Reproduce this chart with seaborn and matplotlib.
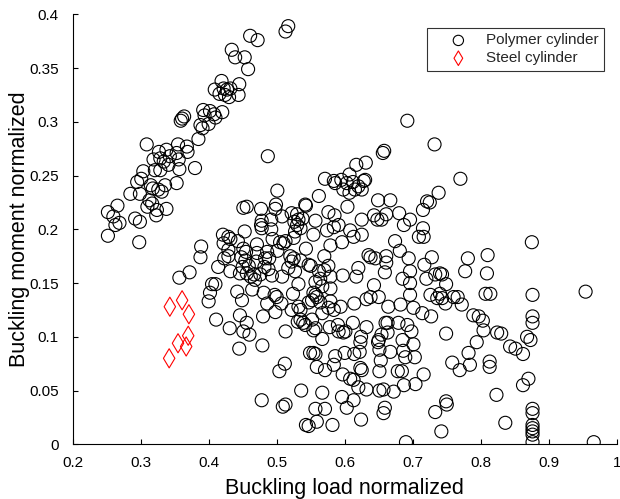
import matplotlib
matplotlib.use("Agg")
import matplotlib.pyplot as plt
import seaborn as sns
import pandas as pd

# Normalized buckling load / moment for the polymer cylinders
polymer_load = [
    0.517, 0.513, 0.461, 0.472, 0.434, 0.439, 0.453, 0.458, 0.419, 0.445,
    0.409, 0.422, 0.427, 0.432, 0.416, 0.424, 0.430, 0.444, 0.392, 0.402,
    0.394, 0.408, 0.420, 0.410, 0.400, 0.388, 0.391, 0.385, 0.364, 0.361,
    0.359, 0.309, 0.327, 0.338, 0.355, 0.368, 0.369, 0.353, 0.319, 0.329,
    0.334, 0.343, 0.356, 0.341, 0.329, 0.321, 0.304, 0.357, 0.380, 0.295,
    0.301, 0.315, 0.318, 0.326, 0.331, 0.336, 0.353, 0.285, 0.299, 0.313,
    0.317, 0.310, 0.324, 0.338, 0.323, 0.252, 0.260, 0.266, 0.263, 0.269,
    0.292, 0.299, 0.252, 0.298, 0.487, 0.501, 0.451, 0.456, 0.477, 0.499,
    0.498, 0.508, 0.492, 0.478, 0.477, 0.478, 0.492, 0.522, 0.530, 0.542,
    0.526, 0.532, 0.538, 0.530, 0.535, 0.527, 0.525, 0.453, 0.421, 0.429,
    0.432, 0.389, 0.422, 0.443, 0.471, 0.494, 0.505, 0.510, 0.513, 0.501,
    0.543, 0.429, 0.451, 0.455, 0.471, 0.486, 0.489, 0.483, 0.520, 0.525,
    0.522, 0.535, 0.388, 0.414, 0.423, 0.429, 0.448, 0.454, 0.450, 0.459,
    0.470, 0.482, 0.488, 0.432, 0.446, 0.456, 0.462, 0.467, 0.468, 0.476,
    0.493, 0.508, 0.517, 0.527, 0.547, 0.405, 0.410, 0.402, 0.442, 0.464,
    0.481, 0.497, 0.500, 0.524, 0.532, 0.400, 0.449, 0.507, 0.498, 0.486,
    0.532, 0.535, 0.522, 0.531, 0.535, 0.542, 0.411, 0.431, 0.446, 0.456,
    0.451, 0.460, 0.480, 0.513, 0.445, 0.479, 0.512, 0.504, 0.536, 0.478,
    0.509, 0.513, 0.543, 0.547, 0.549, 0.658, 0.656, 0.617, 0.631, 0.571,
    0.584, 0.586, 0.595, 0.607, 0.603, 0.612, 0.598, 0.607, 0.615, 0.620,
    0.628, 0.630, 0.625, 0.562, 0.543, 0.649, 0.667, 0.721, 0.604, 0.576,
    0.585, 0.584, 0.591, 0.574, 0.557, 0.625, 0.643, 0.648, 0.654, 0.661,
    0.680, 0.687, 0.696, 0.715, 0.715, 0.709, 0.716, 0.608, 0.613, 0.625,
    0.554, 0.596, 0.579, 0.570, 0.635, 0.638, 0.645, 0.661, 0.661, 0.659,
    0.674, 0.681, 0.694, 0.696, 0.685, 0.696, 0.717, 0.720, 0.550, 0.562,
    0.570, 0.576, 0.579, 0.564, 0.557, 0.567, 0.579, 0.597, 0.617, 0.620,
    0.643, 0.554, 0.557, 0.559, 0.638, 0.650, 0.696, 0.552, 0.547, 0.564,
    0.579, 0.576, 0.584, 0.594, 0.567, 0.539, 0.552, 0.557, 0.554, 0.578,
    0.590, 0.591, 0.598, 0.601, 0.612, 0.624, 0.632, 0.567, 0.614, 0.632,
    0.664, 0.682, 0.701, 0.714, 0.660, 0.663, 0.679, 0.692, 0.663, 0.654,
    0.650, 0.649, 0.698, 0.623, 0.622, 0.651, 0.667, 0.685, 0.686, 0.701,
    0.689, 0.703, 0.554, 0.557, 0.586, 0.600, 0.614, 0.559, 0.571, 0.584,
    0.597, 0.608, 0.613, 0.623, 0.625, 0.653, 0.651, 0.678, 0.684, 0.716,
    0.567, 0.620, 0.632, 0.651, 0.657, 0.672, 0.687, 0.704, 0.596, 0.613,
    0.603, 0.557, 0.571, 0.659, 0.657, 0.624, 0.559, 0.582, 0.690, 0.732,
    0.770, 0.738, 0.725, 0.875, 0.728, 0.781, 0.810, 0.733, 0.740, 0.743,
    0.749, 0.777, 0.809, 0.726, 0.740, 0.736, 0.743, 0.760, 0.766, 0.807,
    0.814, 0.876, 0.748, 0.772, 0.727, 0.789, 0.797, 0.803, 0.804, 0.749,
    0.876, 0.876, 0.824, 0.830, 0.794, 0.868, 0.873, 0.843, 0.851, 0.862,
    0.782, 0.758, 0.769, 0.784, 0.813, 0.813, 0.870, 0.862, 0.823, 0.749,
    0.750, 0.733, 0.742, 0.836, 0.876, 0.876, 0.876, 0.876, 0.876, 0.876,
    0.876, 0.954, 0.966, 0.692, 0.357, 0.372,
]
polymer_moment = [
    0.389, 0.384, 0.380, 0.376, 0.367, 0.360, 0.360, 0.349, 0.338, 0.335,
    0.330, 0.331, 0.330, 0.331, 0.326, 0.325, 0.323, 0.325, 0.311, 0.310,
    0.306, 0.307, 0.309, 0.304, 0.298, 0.297, 0.294, 0.284, 0.305, 0.303,
    0.301, 0.279, 0.272, 0.274, 0.279, 0.277, 0.272, 0.271, 0.265, 0.266,
    0.263, 0.268, 0.265, 0.260, 0.255, 0.255, 0.254, 0.256, 0.257, 0.244,
    0.247, 0.241, 0.238, 0.237, 0.235, 0.241, 0.243, 0.233, 0.233, 0.227,
    0.224, 0.221, 0.218, 0.219, 0.213, 0.216, 0.212, 0.222, 0.204, 0.206,
    0.210, 0.207, 0.194, 0.188, 0.268, 0.236, 0.220, 0.221, 0.219, 0.223,
    0.219, 0.212, 0.209, 0.208, 0.204, 0.201, 0.200, 0.215, 0.214, 0.223,
    0.207, 0.209, 0.210, 0.204, 0.201, 0.198, 0.192, 0.198, 0.195, 0.193,
    0.191, 0.184, 0.187, 0.189, 0.186, 0.191, 0.188, 0.187, 0.189, 0.180,
    0.182, 0.181, 0.182, 0.179, 0.178, 0.179, 0.173, 0.173, 0.175, 0.173,
    0.170, 0.171, 0.174, 0.165, 0.173, 0.175, 0.174, 0.171, 0.165, 0.166,
    0.170, 0.165, 0.163, 0.161, 0.159, 0.159, 0.156, 0.158, 0.153, 0.158,
    0.157, 0.156, 0.164, 0.161, 0.167, 0.149, 0.149, 0.141, 0.142, 0.144,
    0.141, 0.139, 0.137, 0.140, 0.149, 0.133, 0.134, 0.131, 0.123, 0.131,
    0.128, 0.125, 0.125, 0.114, 0.116, 0.111, 0.116, 0.108, 0.120, 0.113,
    0.105, 0.102, 0.119, 0.105, 0.089, 0.092, 0.075, 0.068, 0.050, 0.041,
    0.035, 0.037, 0.018, 0.017, 0.085, 0.273, 0.271, 0.260, 0.262, 0.247,
    0.245, 0.243, 0.246, 0.251, 0.243, 0.244, 0.237, 0.234, 0.237, 0.240,
    0.245, 0.246, 0.237, 0.231, 0.222, 0.227, 0.227, 0.226, 0.221, 0.216,
    0.213, 0.202, 0.204, 0.199, 0.208, 0.209, 0.213, 0.209, 0.209, 0.214,
    0.215, 0.204, 0.209, 0.218, 0.201, 0.193, 0.193, 0.199, 0.193, 0.195,
    0.195, 0.188, 0.185, 0.175, 0.176, 0.174, 0.173, 0.175, 0.169, 0.160,
    0.189, 0.180, 0.173, 0.161, 0.154, 0.150, 0.167, 0.154, 0.166, 0.161,
    0.162, 0.166, 0.156, 0.154, 0.151, 0.147, 0.145, 0.157, 0.156, 0.164,
    0.148, 0.141, 0.139, 0.137, 0.137, 0.137, 0.139, 0.134, 0.132, 0.132,
    0.133, 0.127, 0.125, 0.128, 0.122, 0.113, 0.116, 0.108, 0.106, 0.109,
    0.111, 0.105, 0.104, 0.105, 0.113, 0.100, 0.109, 0.098, 0.131, 0.135,
    0.128, 0.130, 0.127, 0.122, 0.113, 0.113, 0.113, 0.111, 0.104, 0.102,
    0.097, 0.095, 0.105, 0.095, 0.086, 0.088, 0.086, 0.097, 0.087, 0.093,
    0.081, 0.081, 0.085, 0.084, 0.082, 0.085, 0.084, 0.072, 0.069, 0.074,
    0.065, 0.061, 0.060, 0.071, 0.069, 0.078, 0.068, 0.068, 0.068, 0.065,
    0.048, 0.053, 0.051, 0.050, 0.051, 0.049, 0.055, 0.056, 0.044, 0.041,
    0.034, 0.033, 0.033, 0.034, 0.029, 0.023, 0.021, 0.018, 0.002, 0.279,
    0.247, 0.234, 0.225, 0.188, 0.174, 0.173, 0.176, 0.158, 0.159, 0.158,
    0.149, 0.161, 0.159, 0.139, 0.140, 0.136, 0.136, 0.137, 0.137, 0.140,
    0.140, 0.139, 0.131, 0.130, 0.119, 0.120, 0.119, 0.115, 0.106, 0.103,
    0.119, 0.113, 0.104, 0.103, 0.095, 0.100, 0.097, 0.091, 0.089, 0.084,
    0.085, 0.076, 0.069, 0.074, 0.077, 0.072, 0.061, 0.055, 0.046, 0.040,
    0.037, 0.030, 0.012, 0.020, 0.033, 0.029, 0.018, 0.015, 0.012, 0.009,
    0.002, 0.142, 0.002, 0.301, 0.155, 0.160,
]

# Normalized buckling load / moment for the steel cylinders
steel_load = [0.343, 0.361, 0.371, 0.342, 0.355, 0.367, 0.370]
steel_moment = [0.128, 0.134, 0.121, 0.080, 0.094, 0.091, 0.101]

x_ticks = [0.2, 0.3, 0.4, 0.5, 0.6, 0.7, 0.8, 0.9, 1.0]
x_tick_labels = ["0.2", "0.3", "0.4", "0.5", "0.6", "0.7", "0.8", "0.9", "1"]
y_ticks = [0, 0.05, 0.1, 0.15, 0.2, 0.25, 0.3, 0.35, 0.4]
y_tick_labels = ["0", "0.05", "0.1", "0.15", "0.2", "0.25", "0.3", "0.35", "0.4"]

polymer = pd.DataFrame({"load": polymer_load, "moment": polymer_moment})
steel = pd.DataFrame({"load": steel_load, "moment": steel_moment})

sns.set_theme(style="white")
plt.rcParams["font.family"] = ["Liberation Sans", "DejaVu Sans"]

fig = plt.figure(figsize=(6.2, 4.99), dpi=100)
ax = fig.add_axes([0.117, 0.1096, 0.878, 0.8617])

sns.scatterplot(data=polymer, x="load", y="moment", ax=ax, marker="o", s=88,
                facecolor="none", edgecolor="black", linewidth=0.8,
                label="Polymer cylinder")
sns.scatterplot(data=steel, x="load", y="moment", ax=ax, marker="d", s=95,
                facecolor="none", edgecolor="red", linewidth=0.8,
                label="Steel cylinder")

ax.set_xlim(0.2, 1.0)
ax.set_ylim(0, 0.4)
ax.set_xticks(x_ticks)
ax.set_xticklabels(x_tick_labels)
ax.set_yticks(y_ticks)
ax.set_yticklabels(y_tick_labels)
ax.tick_params(direction="in", length=3.5, width=0.8, labelsize=11,
               colors="black", bottom=True, left=True)
ax.tick_params(axis="x", pad=8.5)
ax.tick_params(axis="y", pad=10)
for side in ("top", "right"):
    ax.spines[side].set_visible(False)
for side in ("left", "bottom"):
    ax.spines[side].set_color("black")
    ax.spines[side].set_linewidth(0.8)

ax.set_xlabel("Buckling load normalized", fontsize=15.5, color="black", labelpad=6)
ax.set_ylabel("Buckling moment normalized", fontsize=15.5, color="black", labelpad=-1)

leg = ax.legend(loc="upper right", bbox_to_anchor=(0.976, 0.968),
                borderaxespad=0, fontsize=11, frameon=True, fancybox=False,
                edgecolor="black", handletextpad=0.1, handlelength=3.4,
                borderpad=0.35, labelspacing=0.25)
leg.get_frame().set_linewidth(0.8)
for h in leg.legend_handles:
    h.set_sizes([55])

fig.savefig("out.png", dpi=100)
